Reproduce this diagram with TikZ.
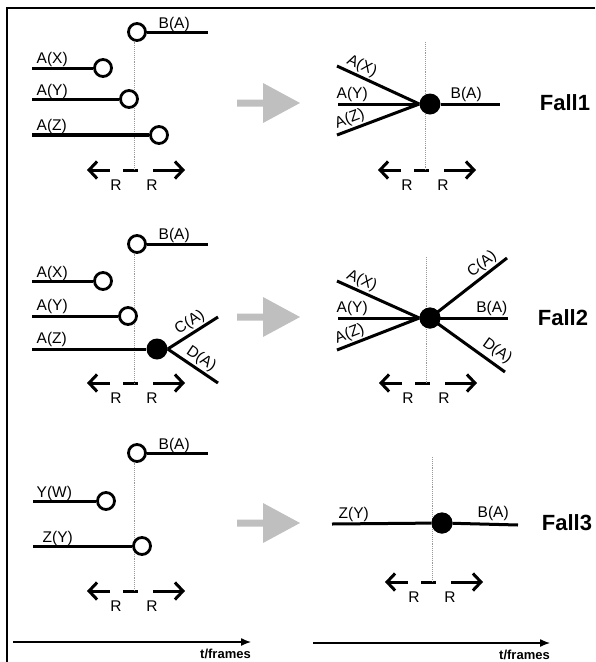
\documentclass[tikz,border=0pt]{standalone}
\usepackage{fontspec}
\setmainfont{Liberation Sans}
\usetikzlibrary{arrows.meta}
\begin{document}
\begin{tikzpicture}[x=1pt,y=-1pt,
  seg/.style={line width=3pt},
  ring/.style={circle,draw,line width=2.8pt,fill=white,minimum size=17pt,inner sep=0pt},
  blob/.style={circle,fill=black,minimum size=21pt,inner sep=0pt},
  guide/.style={gray!80,line width=0.9pt,densely dotted},
  lab/.style={font=\fontsize{15.5}{16}\selectfont,inner sep=1.5pt},
  fall/.style={font=\fontsize{22}{23}\selectfont\bfseries},
  rlab/.style={font=\fontsize{15.5}{16}\selectfont,inner sep=0pt},
  rtip/.style={line width=3pt,-{Straight Barb[length=8pt,width=17pt]}},
  rdash/.style={line width=3pt},
  bigarrow/.style={fill=gray!50,draw=none},
  axis/.style={line width=1.3pt,-{Latex[length=10pt,width=8pt]}},
  tlab/.style={font=\fontsize{13}{13}\selectfont\bfseries,inner sep=0pt}
]
\useasboundingbox (0,0) rectangle (595,662);

% frame
\coordinate (fTR) at (595,8);
\coordinate (fTL) at (7,8);
\coordinate (fBL) at (7,662);
\draw[line width=2pt] (fTR) -- (fTL) -- (fBL);

% ---------- R arrows ----------
\foreach \cx/\cy/\n in {134/170/a,425/170/b,134/383/c,426/383/d,134/591/e,432/582/f}{
  \coordinate (\n L0) at (\cx-47,\cy);
  \coordinate (\n L1) at (\cx-24,\cy);
  \coordinate (\n M0) at (\cx-11,\cy);
  \coordinate (\n M1) at (\cx+4,\cy);
  \coordinate (\n R0) at (\cx+19,\cy);
  \coordinate (\n R1) at (\cx+51,\cy);
  \draw[rtip] (\n L1) -- (\n L0);
  \draw[rdash] (\n M0) -- (\n M1);
  \draw[rtip] (\n R0) -- (\n R1);
  \node[rlab] (\n RL) at (\cx-18,\cy+15) {R};
  \node[rlab] (\n RR) at (\cx+18,\cy+15) {R};
}

% ---------- big gray arrows ----------
\foreach \y/\n in {103/g1,317/g2,523/g3}{
  \fill[bigarrow] (237,\y-3.5) -- (263,\y-3.5) -- (263,\y-20) -- (300,\y)
     -- (263,\y+20) -- (263,\y+3.5) -- (237,\y+3.5) -- cycle;
}

% ================= Fall 1 left =================
\coordinate (aTop) at (134,32);
\draw[guide] (aTop) -- (134,170);
\coordinate (b1e) at (208,32);
\coordinate (x1s) at (32,68);
\coordinate (y1s) at (32,99);
\coordinate (z1s) at (32,135);
\node[ring] (b1) at (137,32) {};
\node[ring] (x1) at (103,68) {};
\node[ring] (y1) at (129,99) {};
\node[ring] (z1) at (159,135) {};
\draw[seg] (b1) -- (b1e);
\draw[seg] (x1s) -- (x1);
\draw[seg] (y1s) -- (y1);
\draw[line width=3.5pt] (z1s) -- (z1);
\node[lab,anchor=base west] (lb1) at (157,28) {B(A)};
\node[lab,anchor=base west] (lx1) at (35,63) {A(X)};
\node[lab,anchor=base west] (ly1) at (35,95) {A(Y)};
\node[lab,anchor=base west] (lz1) at (35,130) {A(Z)};

% ================= Fall 1 right =================
\coordinate (bTop) at (425,42);
\draw[guide] (bTop) -- (425,170);
\node[blob] (d1) at (430,104) {};
\coordinate (p1x) at (337,66);
\coordinate (p1y) at (338,104);
\coordinate (p1z) at (337,135);
\coordinate (p1b) at (500,104);
\draw[seg] (p1x) -- node[lab,sloped,above,pos=0.25] {A(X)} (d1.west);
\draw[seg] (p1y) -- (d1.west);
\draw[seg] (p1z) -- node[lab,sloped,above,pos=0.2] {A(Z)} (d1.west);
\draw[seg] (d1) -- (p1b);
\node[lab,anchor=base west] (ly1r) at (335,98) {A(Y)};
\node[lab,anchor=base west] (lb1r) at (449,98) {B(A)};
\node[fall] (f1) at (565,103) {Fall1};

% ================= Fall 2 left =================
\coordinate (cTop) at (134,244);
\draw[guide] (cTop) -- (134,383);
\coordinate (b2e) at (208,244);
\coordinate (x2s) at (32,281);
\coordinate (y2s) at (32,316);
\coordinate (z2s) at (32,349);
\coordinate (c2e) at (218,317);
\coordinate (dd2e) at (218,383);
\node[ring] (b2) at (137,244) {};
\node[ring] (x2) at (103,281) {};
\node[ring] (y2) at (128,316) {};
\draw[seg] (b2) -- (b2e);
\draw[seg] (x2s) -- (x2);
\draw[seg] (y2s) -- (y2);
\node[blob] (z2) at (157,349) {};
\draw[seg] (z2s) -- (z2);
\draw[seg] (z2.east) -- node[lab,sloped,above,pos=0.55] {C(A)} (c2e);
\draw[seg] (z2.east) -- node[lab,sloped,above,pos=0.55] {D(A)} (dd2e);
\node[lab,anchor=base west] (lb2) at (157,239) {B(A)};
\node[lab,anchor=base west] (lx2) at (35,277) {A(X)};
\node[lab,anchor=base west] (ly2) at (35,310) {A(Y)};
\node[lab,anchor=base west] (lz2) at (35,343) {A(Z)};

% ================= Fall 2 right =================
\coordinate (dTop) at (426,257);
\draw[guide] (dTop) -- (426,383);
\node[blob] (d2) at (430,318) {};
\coordinate (p2x) at (337,281);
\coordinate (p2y) at (338,318);
\coordinate (p2z) at (337,350);
\coordinate (p2c) at (507,258);
\coordinate (p2b) at (508,318);
\coordinate (p2d) at (505,372);
\draw[seg] (p2x) -- node[lab,sloped,above,pos=0.25] {A(X)} (d2.west);
\draw[seg] (p2y) -- (d2.west);
\draw[seg] (p2z) -- node[lab,sloped,above,pos=0.2] {A(Z)} (d2.west);
\draw[seg] (d2.center) -- node[lab,sloped,above,pos=0.76] {C(A)} (p2c);
\draw[seg] (d2.center) -- (p2b);
\draw[seg] (d2.center) -- node[lab,sloped,above,pos=0.8,yshift=2pt] {D(A)} (p2d);
\node[blob] at (d2) {};
\node[lab,anchor=base west] (ly2r) at (335,312) {A(Y)};
\node[lab,anchor=base east] (lb2r) at (509,312) {B(A)};
\node[fall] (f2) at (563,318) {Fall2};

% ================= Fall 3 left =================
\coordinate (eTop) at (134,453);
\draw[guide] (eTop) -- (134,591);
\coordinate (b3e) at (208,453);
\coordinate (w3s) at (33,501);
\coordinate (z3s) at (33,546);
\node[ring] (b3) at (137,453) {};
\node[ring] (w3) at (106,501) {};
\node[ring] (z3) at (142,546) {};
\draw[seg] (b3) -- (b3e);
\draw[seg] (w3s) -- (w3);
\draw[seg] (z3s) -- (z3);
\node[lab,anchor=base west] (lb3) at (157,449) {B(A)};
\node[lab,anchor=base west] (lw3) at (35,497) {Y(W)};
\node[lab,anchor=base west] (lz3) at (41,542) {Z(Y)};

% ================= Fall 3 right =================
\coordinate (fTop) at (432,457);
\draw[guide] (fTop) -- (432,582);
\node[blob] (d3) at (442,523) {};
\coordinate (p3z) at (332,524);
\coordinate (p3b) at (518,525);
\draw[seg] (p3z) -- (d3);
\draw[seg] (d3) -- (p3b);
\node[blob] at (d3) {};
\node[lab,anchor=base west] (lz3r) at (337,518) {Z(Y)};
\node[lab,anchor=base west] (lb3r) at (476,517) {B(A)};
\node[fall] (f3) at (567,523) {Fall3};

% ================= time axes =================
\coordinate (ax1s) at (13,642);
\coordinate (ax1e) at (251,642);
\coordinate (ax2s) at (313,643);
\coordinate (ax2e) at (550,643);
\draw[axis] (ax1s) -- (ax1e);
\draw[axis] (ax2s) -- (ax2e);
\node[tlab,anchor=east] (t1) at (251,654) {t/frames};
\node[tlab,anchor=east] (t2) at (550,655) {t/frames};
\end{tikzpicture}
\end{document}
